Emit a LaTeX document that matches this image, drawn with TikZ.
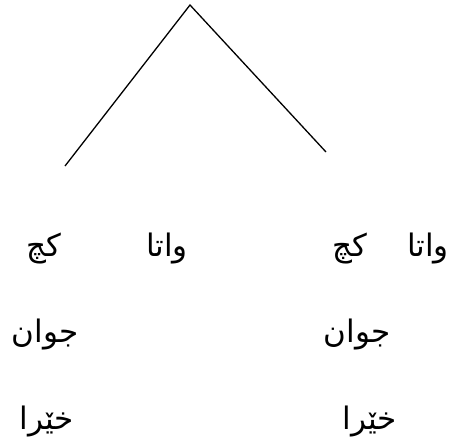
\documentclass[tikz,border=0pt]{standalone}
\usepackage{fontspec}
\newfontfamily\arabicfont[Script=Arabic]{DejaVu Sans}
\TeXXeTstate=1
\begin{document}
\begin{tikzpicture}[x=1pt,y=-1pt,
  word/.style={inner sep=0pt,anchor=base,font=\arabicfont\fontsize{31}{36}\selectfont},
  branch/.style={draw=black,line width=1.3pt}]
\useasboundingbox (0,0) rectangle (454,439);
\coordinate (top) at (190,5);
\coordinate (lend) at (65,166);
\coordinate (rend) at (326,152);
\draw[branch] (lend) -- (top) -- (rend);
\node[word] (lkach) at (44,256) {\beginR کچ\endR};
\node[word] (lwata) at (167,256) {\beginR واتا\endR};
\node[word] (rkach) at (350,256) {\beginR کچ\endR};
\node[word] (rwata) at (428,256) {\beginR واتا\endR};
\node[word] (ljwan) at (45,342) {\beginR جوان\endR};
\node[word] (rjwan) at (357,342) {\beginR جوان\endR};
\node[word] (lkhera) at (47,429) {\beginR خێرا\endR};
\node[word] (rkhera) at (370,429) {\beginR خێرا\endR};
\end{tikzpicture}
\end{document}
